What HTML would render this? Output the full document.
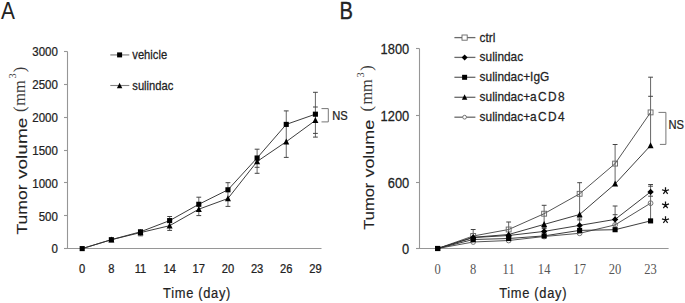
<!DOCTYPE html>
<html><head><meta charset="utf-8"><style>
html,body{margin:0;padding:0;background:#fff;}
svg{display:block;}
text{font-family:"Liberation Sans",sans-serif;fill:#222;stroke:#222;stroke-width:0.25px;}
.ax{stroke:#969696;stroke-width:1.1;fill:none;}
.dl{stroke:#333;stroke-width:0.95;fill:none;}
.dl2{stroke:#555;stroke-width:1;fill:none;}
.eb{stroke:#666;stroke-width:1;}
.cap{stroke:#444;stroke-width:1;}
.mk{fill:#000;}
.omk{fill:none;stroke:#666;stroke-width:0.9;}
.omkw{fill:#fff;stroke:#666;stroke-width:0.9;}
.lg{stroke:#6a6a6a;stroke-width:1.3;}
.lga{stroke:#a8a8a8;stroke-width:1.7;}
.lga2{stroke:#808080;stroke-width:1.1;}
.br{stroke:#777;stroke-width:1;fill:none;}
.yl{font-size:12.8px;}
.ylb{font-size:14px;}
.xl{font-size:12px;}
.xlb{font-family:"Liberation Serif",serif;font-size:14.6px;fill:#555;stroke:none;}
.lt{font-size:12.6px;}
.ltb{font-size:12.5px;}
.ns{font-size:12px;}
.astp{stroke:#111;stroke-width:1.25;fill:none;}
.yt{font-size:14.4px;stroke-width:0.1px;}
.xt{font-size:14px;letter-spacing:0.75px;stroke-width:0.2px;}
.ser{font-family:"Liberation Serif",serif;font-size:16.3px;fill:#3a3a3a;stroke:none;}
.sup{font-size:10.2px;}
.pl{font-size:24px;stroke:none;}
.plb{stroke:#222;stroke-width:0.35px;}
</style></head><body>
<svg width="685" height="303" viewBox="0 0 685 303">
<line x1="67.5" y1="51.5" x2="67.5" y2="248.5" class="ax"/>
<line x1="64.0" y1="248.5" x2="321.5" y2="248.5" class="ax"/>
<line x1="64.0" y1="51.5" x2="67.5" y2="51.5" class="ax"/>
<text transform="translate(57.9,56.4) scale(0.9,1)" class="yl" text-anchor="end">3000</text>
<line x1="64.0" y1="84.5" x2="67.5" y2="84.5" class="ax"/>
<text transform="translate(57.9,89.23) scale(0.9,1)" class="yl" text-anchor="end">2500</text>
<line x1="64.0" y1="117.5" x2="67.5" y2="117.5" class="ax"/>
<text transform="translate(57.9,122.07) scale(0.9,1)" class="yl" text-anchor="end">2000</text>
<line x1="64.0" y1="150.5" x2="67.5" y2="150.5" class="ax"/>
<text transform="translate(57.9,154.9) scale(0.9,1)" class="yl" text-anchor="end">1500</text>
<line x1="64.0" y1="182.5" x2="67.5" y2="182.5" class="ax"/>
<text transform="translate(57.9,187.73) scale(0.9,1)" class="yl" text-anchor="end">1000</text>
<line x1="64.0" y1="215.5" x2="67.5" y2="215.5" class="ax"/>
<text transform="translate(57.9,220.57) scale(0.9,1)" class="yl" text-anchor="end">500</text>
<line x1="64.0" y1="248.5" x2="67.5" y2="248.5" class="ax"/>
<text transform="translate(57.9,253.4) scale(0.9,1)" class="yl" text-anchor="end">0</text>
<text transform="translate(82.2,272.8) scale(0.93,1)" class="xl" text-anchor="middle">0</text>
<text transform="translate(111.35,272.8) scale(0.93,1)" class="xl" text-anchor="middle">8</text>
<text transform="translate(140.5,272.8) scale(0.93,1)" class="xl" text-anchor="middle">11</text>
<text transform="translate(169.65,272.8) scale(0.93,1)" class="xl" text-anchor="middle">14</text>
<text transform="translate(198.8,272.8) scale(0.93,1)" class="xl" text-anchor="middle">17</text>
<text transform="translate(227.95,272.8) scale(0.93,1)" class="xl" text-anchor="middle">20</text>
<text transform="translate(257.1,272.8) scale(0.93,1)" class="xl" text-anchor="middle">23</text>
<text transform="translate(286.25,272.8) scale(0.93,1)" class="xl" text-anchor="middle">26</text>
<text transform="translate(315.4,272.8) scale(0.93,1)" class="xl" text-anchor="middle">29</text>
<line x1="140.5" y1="229.5" x2="140.5" y2="235.8" class="eb"/>
<line x1="169.65" y1="216.5" x2="169.65" y2="230.4" class="eb"/>
<line x1="198.8" y1="197.2" x2="198.8" y2="215.6" class="eb"/>
<line x1="227.95" y1="182.7" x2="227.95" y2="206.4" class="eb"/>
<line x1="257.1" y1="149.2" x2="257.1" y2="173.3" class="eb"/>
<line x1="286.25" y1="110.9" x2="286.25" y2="157.4" class="eb"/>
<line x1="315.4" y1="92.3" x2="315.4" y2="137.1" class="eb"/>
<line x1="167.25" y1="216.5" x2="172.05" y2="216.5" class="cap"/>
<line x1="167.25" y1="230.4" x2="172.05" y2="230.4" class="cap"/>
<line x1="196.4" y1="197.2" x2="201.2" y2="197.2" class="cap"/>
<line x1="196.4" y1="215.6" x2="201.2" y2="215.6" class="cap"/>
<line x1="225.55" y1="182.7" x2="230.35" y2="182.7" class="cap"/>
<line x1="225.55" y1="206.4" x2="230.35" y2="206.4" class="cap"/>
<line x1="254.7" y1="149.2" x2="259.5" y2="149.2" class="cap"/>
<line x1="254.7" y1="167.3" x2="259.5" y2="167.3" class="cap"/>
<line x1="254.7" y1="173.3" x2="259.5" y2="173.3" class="cap"/>
<line x1="283.85" y1="110.9" x2="288.65" y2="110.9" class="cap"/>
<line x1="283.85" y1="157.4" x2="288.65" y2="157.4" class="cap"/>
<line x1="313" y1="92.3" x2="317.8" y2="92.3" class="cap"/>
<line x1="313" y1="107.0" x2="317.8" y2="107.0" class="cap"/>
<line x1="313" y1="133.4" x2="317.8" y2="133.4" class="cap"/>
<line x1="313" y1="137.1" x2="317.8" y2="137.1" class="cap"/>
<line x1="138.1" y1="235.8" x2="142.9" y2="235.8" class="cap"/>
<polyline points="82.2,248.6 111.35,239.7 140.5,232.6 169.65,225.7 198.8,209.2 227.95,198.5 257.1,161.5 286.25,141.7 315.4,120.4" class="dl"/>
<polyline points="82.2,248.6 111.35,239.7 140.5,231.8 169.65,220.6 198.8,204.3 227.95,189.8 257.1,158 286.25,124.4 315.4,114.2" class="dl"/>
<path d="M111.35 236.4L114.35 242.4L108.35 242.4Z" class="mk"/>
<path d="M140.5 229.3L143.5 235.3L137.5 235.3Z" class="mk"/>
<path d="M169.65 222.4L172.65 228.4L166.65 228.4Z" class="mk"/>
<path d="M198.8 205.9L201.8 211.9L195.8 211.9Z" class="mk"/>
<path d="M227.95 195.2L230.95 201.2L224.95 201.2Z" class="mk"/>
<path d="M257.1 158.2L260.1 164.2L254.1 164.2Z" class="mk"/>
<path d="M286.25 138.4L289.25 144.4L283.25 144.4Z" class="mk"/>
<path d="M315.4 117.1L318.4 123.1L312.4 123.1Z" class="mk"/>
<rect x="79.65" y="246.05" width="5.1" height="5.1" class="mk"/>
<rect x="108.8" y="237.15" width="5.1" height="5.1" class="mk"/>
<rect x="137.95" y="229.25" width="5.1" height="5.1" class="mk"/>
<rect x="167.1" y="218.05" width="5.1" height="5.1" class="mk"/>
<rect x="196.25" y="201.75" width="5.1" height="5.1" class="mk"/>
<rect x="225.4" y="187.25" width="5.1" height="5.1" class="mk"/>
<rect x="254.55" y="155.45" width="5.1" height="5.1" class="mk"/>
<rect x="283.7" y="121.85" width="5.1" height="5.1" class="mk"/>
<rect x="312.85" y="111.65" width="5.1" height="5.1" class="mk"/>
<path d="M321.5 108.6H328.3V121.9H321.5" class="br"/>
<text transform="translate(332.3,120.2) scale(0.93,1)" class="ns">NS</text>
<line x1="110.3" y1="54.9" x2="129.3" y2="54.9" class="lga"/>
<rect x="117.1" y="52.4" width="5" height="5" class="mk"/>
<text transform="translate(132.3,58.7) scale(0.89,1)" class="lt">vehicle</text>
<line x1="110.3" y1="85.5" x2="129.3" y2="85.5" class="lga2"/>
<path d="M119.6 82.87L122.3 88.33L116.9 88.33Z" class="mk"/>
<text transform="translate(132.3,89.6) scale(0.89,1)" class="lt">sulindac</text>
<text transform="translate(26.6,234.6) rotate(-90)" class="yt"><tspan x="0" textLength="50.2" lengthAdjust="spacingAndGlyphs">Tumor</tspan><tspan x="55.6" textLength="61.4" lengthAdjust="spacingAndGlyphs">volume</tspan><tspan x="122.5" dy="-1.3" class="ser">(</tspan><tspan x="128.9" textLength="25.4" lengthAdjust="spacingAndGlyphs" class="ser">mm</tspan><tspan x="156.0" dy="-9.3" class="ser sup">3</tspan><tspan x="162.4" dy="9.3" class="ser">)</tspan></text>
<text transform="translate(163.1,298.3) scale(0.92,1)" class="xt">Time (day)</text>
<text transform="translate(1.1,18.7) scale(0.87,1.03)" class="pl">A</text>
<line x1="419.5" y1="48.5" x2="419.5" y2="248.5" class="ax"/>
<line x1="416.0" y1="248.5" x2="668.6" y2="248.5" class="ax"/>
<line x1="416.0" y1="48.5" x2="419.5" y2="48.5" class="ax"/>
<text transform="translate(409.2,53.6) scale(0.92,1)" class="ylb" text-anchor="end">1800</text>
<line x1="416.0" y1="115.5" x2="419.5" y2="115.5" class="ax"/>
<text transform="translate(409.2,120.6) scale(0.92,1)" class="ylb" text-anchor="end">1200</text>
<line x1="416.0" y1="182.5" x2="419.5" y2="182.5" class="ax"/>
<text transform="translate(409.2,187.6) scale(0.92,1)" class="ylb" text-anchor="end">600</text>
<line x1="416.0" y1="248.5" x2="419.5" y2="248.5" class="ax"/>
<text transform="translate(409.2,253.6) scale(0.92,1)" class="ylb" text-anchor="end">0</text>
<text transform="translate(437.7,273.7) scale(0.86,1)" class="xlb" text-anchor="middle">0</text>
<text transform="translate(473.18,273.7) scale(0.86,1)" class="xlb" text-anchor="middle">8</text>
<text transform="translate(508.66,273.7) scale(0.86,1)" class="xlb" text-anchor="middle">11</text>
<text transform="translate(544.14,273.7) scale(0.86,1)" class="xlb" text-anchor="middle">14</text>
<text transform="translate(579.62,273.7) scale(0.86,1)" class="xlb" text-anchor="middle">17</text>
<text transform="translate(615.1,273.7) scale(0.86,1)" class="xlb" text-anchor="middle">20</text>
<text transform="translate(650.58,273.7) scale(0.86,1)" class="xlb" text-anchor="middle">23</text>
<line x1="473.18" y1="229.5" x2="473.18" y2="236" class="eb"/>
<line x1="508.66" y1="222.0" x2="508.66" y2="233" class="eb"/>
<line x1="544.14" y1="205.3" x2="544.14" y2="224.4" class="eb"/>
<line x1="544.14" y1="227.4" x2="544.14" y2="232" class="eb"/>
<line x1="579.62" y1="182.7" x2="579.62" y2="214.5" class="eb"/>
<line x1="579.62" y1="217.9" x2="579.62" y2="226" class="eb"/>
<line x1="615.1" y1="144.5" x2="615.1" y2="183.9" class="eb"/>
<line x1="615.1" y1="206.0" x2="615.1" y2="229" class="eb"/>
<line x1="650.58" y1="77.2" x2="650.58" y2="145.5" class="eb"/>
<line x1="650.58" y1="184.5" x2="650.58" y2="221" class="eb"/>
<line x1="470.78" y1="229.5" x2="475.58" y2="229.5" class="cap"/>
<line x1="506.26" y1="222.0" x2="511.06" y2="222.0" class="cap"/>
<line x1="541.74" y1="205.3" x2="546.54" y2="205.3" class="cap"/>
<line x1="541.74" y1="227.4" x2="546.54" y2="227.4" class="cap"/>
<line x1="541.74" y1="228.6" x2="546.54" y2="228.6" class="cap"/>
<line x1="577.22" y1="182.7" x2="582.02" y2="182.7" class="cap"/>
<line x1="577.22" y1="217.9" x2="582.02" y2="217.9" class="cap"/>
<line x1="577.22" y1="219.9" x2="582.02" y2="219.9" class="cap"/>
<line x1="612.7" y1="144.5" x2="617.5" y2="144.5" class="cap"/>
<line x1="612.7" y1="206.0" x2="617.5" y2="206.0" class="cap"/>
<line x1="612.7" y1="214.7" x2="617.5" y2="214.7" class="cap"/>
<line x1="648.18" y1="77.2" x2="652.98" y2="77.2" class="cap"/>
<line x1="648.18" y1="96.3" x2="652.98" y2="96.3" class="cap"/>
<line x1="648.18" y1="184.5" x2="652.98" y2="184.5" class="cap"/>
<line x1="648.18" y1="186.2" x2="652.98" y2="186.2" class="cap"/>
<line x1="648.18" y1="196.2" x2="652.98" y2="196.2" class="cap"/>
<polyline points="437.7,248.5 473.18,236 508.66,229.5 544.14,213.7 579.62,193.8 615.1,163.6 650.58,112.4" class="dl2"/>
<polyline points="437.7,248.5 473.18,242 508.66,240.5 544.14,236.5 579.62,233.3 615.1,224.9 650.58,203.2" class="dl2"/>
<polyline points="437.7,248.5 473.18,239.5 508.66,238.5 544.14,235.9 579.62,230.4 615.1,229.7 650.58,220.9" class="dl"/>
<polyline points="437.7,248.5 473.18,237.3 508.66,234.5 544.14,224.4 579.62,214.5 615.1,183.9 650.58,145.5" class="dl"/>
<polyline points="437.7,248.5 473.18,237.6 508.66,235.5 544.14,231.4 579.62,225.4 615.1,219.4 650.58,191.9" class="dl"/>
<rect x="470.73" y="233.55" width="4.9" height="4.9" class="omk"/>
<rect x="506.21" y="227.05" width="4.9" height="4.9" class="omk"/>
<rect x="541.69" y="211.25" width="4.9" height="4.9" class="omk"/>
<rect x="577.17" y="191.35" width="4.9" height="4.9" class="omk"/>
<rect x="612.65" y="161.15" width="4.9" height="4.9" class="omk"/>
<rect x="648.13" y="109.95" width="4.9" height="4.9" class="omk"/>
<circle cx="473.18" cy="242" r="2.4" class="omk"/>
<circle cx="508.66" cy="240.5" r="2.4" class="omk"/>
<circle cx="544.14" cy="236.5" r="2.4" class="omk"/>
<circle cx="579.62" cy="233.3" r="2.4" class="omk"/>
<circle cx="615.1" cy="224.9" r="2.4" class="omk"/>
<circle cx="650.58" cy="203.2" r="2.4" class="omk"/>
<path d="M473.18 234L476.18 240L470.18 240Z" class="mk"/>
<path d="M508.66 231.2L511.66 237.2L505.66 237.2Z" class="mk"/>
<path d="M544.14 221.1L547.14 227.1L541.14 227.1Z" class="mk"/>
<path d="M579.62 211.2L582.62 217.2L576.62 217.2Z" class="mk"/>
<path d="M615.1 180.6L618.1 186.6L612.1 186.6Z" class="mk"/>
<path d="M650.58 142.2L653.58 148.2L647.58 148.2Z" class="mk"/>
<path d="M473.18 234.4L476.38 237.6L473.18 240.8L469.98 237.6Z" class="mk"/>
<path d="M508.66 232.3L511.86 235.5L508.66 238.7L505.46 235.5Z" class="mk"/>
<path d="M544.14 228.2L547.34 231.4L544.14 234.6L540.94 231.4Z" class="mk"/>
<path d="M579.62 222.2L582.82 225.4L579.62 228.6L576.42 225.4Z" class="mk"/>
<path d="M615.1 216.2L618.3 219.4L615.1 222.6L611.9 219.4Z" class="mk"/>
<path d="M650.58 188.7L653.78 191.9L650.58 195.1L647.38 191.9Z" class="mk"/>
<rect x="435.15" y="245.95" width="5.1" height="5.1" class="mk"/>
<rect x="470.63" y="236.95" width="5.1" height="5.1" class="mk"/>
<rect x="506.11" y="235.95" width="5.1" height="5.1" class="mk"/>
<rect x="541.59" y="233.35" width="5.1" height="5.1" class="mk"/>
<rect x="577.07" y="227.85" width="5.1" height="5.1" class="mk"/>
<rect x="612.55" y="227.15" width="5.1" height="5.1" class="mk"/>
<rect x="648.03" y="218.35" width="5.1" height="5.1" class="mk"/>
<rect x="435.15" y="245.95" width="5.1" height="5.1" class="mk"/>
<path d="M658.5 112.4H665.9V144.4H659.9" class="br"/>
<text transform="translate(668.5,129) scale(0.93,1)" class="ns">NS</text>
<path d="M665.5 190.9L665.5 187.2M665.5 190.9L669.02 189.76M665.5 190.9L667.67 193.89M665.5 190.9L663.33 193.89M665.5 190.9L661.98 189.76" class="astp"/>
<path d="M665.5 205.1L665.5 201.4M665.5 205.1L669.02 203.96M665.5 205.1L667.67 208.09M665.5 205.1L663.33 208.09M665.5 205.1L661.98 203.96" class="astp"/>
<path d="M665.5 220L665.5 216.3M665.5 220L669.02 218.86M665.5 220L667.67 222.99M665.5 220L663.33 222.99M665.5 220L661.98 218.86" class="astp"/>
<line x1="454.4" y1="37.6" x2="475.4" y2="37.6" class="lg"/>
<rect x="462" y="35" width="5.2" height="5.2" class="omkw"/>
<text transform="translate(479.6,41.5) scale(0.95,1)" class="ltb">ctrl</text>
<line x1="454.4" y1="57.4" x2="475.4" y2="57.4" class="lg"/>
<path d="M464.6 54.4L467.6 57.4L464.6 60.4L461.6 57.4Z" class="mk"/>
<text transform="translate(479.6,61.3) scale(0.95,1)" class="ltb">sulindac</text>
<line x1="454.4" y1="77.3" x2="475.4" y2="77.3" class="lg"/>
<rect x="462.1" y="74.8" width="5" height="5" class="mk"/>
<text transform="translate(479.6,81.2) scale(0.95,1)" class="ltb">sulindac+IgG</text>
<line x1="454.4" y1="97.3" x2="475.4" y2="97.3" class="lg"/>
<path d="M464.6 94.27L467.3 99.73L461.9 99.73Z" class="mk"/>
<text transform="translate(479.6,101.2) scale(0.95,1)" class="ltb">sulindac+<tspan letter-spacing="1.45">aCD</tspan>8</text>
<line x1="454.4" y1="117.2" x2="475.4" y2="117.2" class="lg"/>
<circle cx="464.6" cy="117.2" r="1.9" class="omkw"/>
<text transform="translate(479.6,121.1) scale(0.95,1)" class="ltb">sulindac+<tspan letter-spacing="1.45">aCD</tspan>4</text>
<text transform="translate(373.9,229.7) rotate(-90)" class="yt"><tspan x="0" textLength="47.0" lengthAdjust="spacingAndGlyphs">Tumor</tspan><tspan x="52.2" textLength="57.6" lengthAdjust="spacingAndGlyphs">volume</tspan><tspan x="118.3" dy="-1.5" class="ser">(</tspan><tspan x="125.1" textLength="25.4" lengthAdjust="spacingAndGlyphs" class="ser">mm</tspan><tspan x="152.2" dy="-8.4" class="ser sup">3</tspan><tspan x="159.0" dy="8.4" class="ser">)</tspan></text>
<text transform="translate(499.2,298.3) scale(0.92,1)" class="xt">Time (day)</text>
<text transform="translate(339.6,18.8) scale(0.84,1.03)" class="pl plb">B</text>
</svg>
</body></html>
